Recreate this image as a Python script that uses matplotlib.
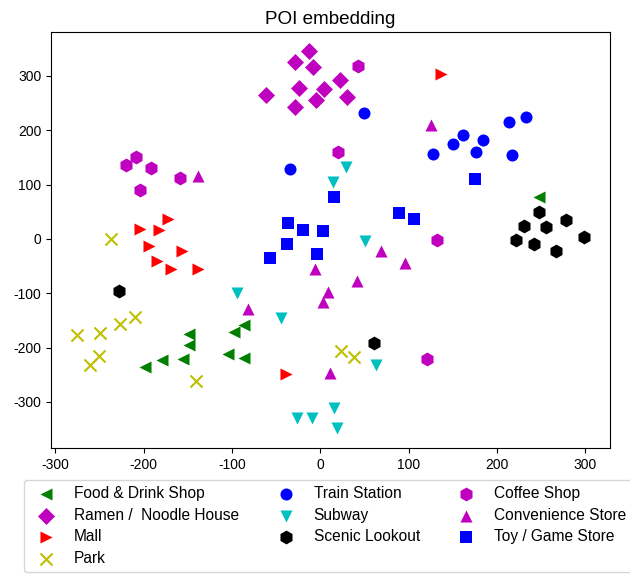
import matplotlib
matplotlib.use("Agg")
import matplotlib.pyplot as plt

plt.rcParams['font.family'] = ['Liberation Sans', 'DejaVu Sans']
plt.rcParams['axes.unicode_minus'] = False

food_x = [248, -149, -149, -155, -179, -198, -98, -86, -105, -86]
food_y = [78, -176, -195, -222, -223, -235, -172, -159, -212, -219]

ramen_x = [-61, -29, -13, -8, -24, -29, -5, 4, 22, 30]
ramen_y = [265, 325, 346, 316, 278, 243, 255, 276, 292, 261]

mall_x = [-204, -183, -172, -194, -157, -185, -169, -139, -39, 137]
mall_y = [19, 17, 36, -13, -22, -41, -56, -56, -248, 303]

park_x = [-237, -276, -250, -227, -210, -251, -261, -141, 23, 38]
park_y = [-1, -177, -173, -156, -143, -216, -232, -262, -206, -218]

train_x = [-34, 49, 128, 150, 162, 184, 176, 214, 233, 217]
train_y = [128, 231, 156, 175, 191, 183, 160, 216, 224, 154]

subway_x = [29, 14, 51, -94, -44, -27, -9, 63, 16, 19]
subway_y = [132, 105, -4, -99, -146, -329, -329, -232, -311, -349]

scenic_x = [-228, 61, 248, 231, 256, 278, 299, 222, 242, 267]
scenic_y = [-96, -192, 49, 24, 22, 34, 4, -2, -10, -23]

coffee_x = [-220, -209, -192, -204, -159, 43, 20, 132, 121]
coffee_y = [136, 151, 131, 90, 113, 319, 160, -2, -221]

conv_x = [-138, 125, 69, 96, -6, 41, 9, 3, 11, -82]
conv_y = [116, 209, -22, -45, -55, -78, -97, -116, -246, -129]

toy_x = [-37, -20, 3, -38, 15, 89, 106, 175, -57, -4]
toy_y = [29, 17, 14, -9, 77, 47, 36, 111, -35, -28]

labels = ["Food & Drink Shop", "Ramen /  Noodle House", "Mall", "Park",
          "Train Station", "Subway", "Scenic Lookout",
          "Coffee Shop", "Convenience Store", "Toy / Game Store"]
markers = ['<', 'D', '>', 'x', 'o', 'v', 'h', 'h', '^', 's']
colors = ['g', 'm', 'r', 'y', 'b', 'c', 'k', 'm', 'm', 'b']
xs = [food_x, ramen_x, mall_x, park_x, train_x, subway_x, scenic_x, coffee_x, conv_x, toy_x]
ys = [food_y, ramen_y, mall_y, park_y, train_y, subway_y, scenic_y, coffee_y, conv_y, toy_y]

fig = plt.figure(figsize=(6.3, 5.74), dpi=100)
ax = fig.add_axes([51/630, 1-448/574, (610-51)/630, (448-32)/574])

handles = []
for x, y, m, c, lab in zip(xs, ys, markers, colors, labels):
    size = 100 if m == 'h' else 75
    h = ax.scatter(x, y, marker=m, c=c, s=size, label=lab,
                   linewidths=1.5 if m == 'x' else 0)
    handles.append(h)

ax.set_xlim(-305, 328)
ax.set_ylim(-385, 381)
ax.set_xticks([-300, -200, -100, 0, 100, 200, 300])
ax.set_yticks([-300, -200, -100, 0, 100, 200, 300])
ax.tick_params(labelsize=10)
ax.set_title("POI embedding", fontsize=13.6)

fig.legend(handles=handles, labels=labels, ncol=3, loc='upper left',
           bbox_to_anchor=(24/630, 1-480/574), borderaxespad=0,
           fontsize=11.2, labelspacing=0.42, scatterpoints=1)

fig.savefig("out.png", dpi=100)
